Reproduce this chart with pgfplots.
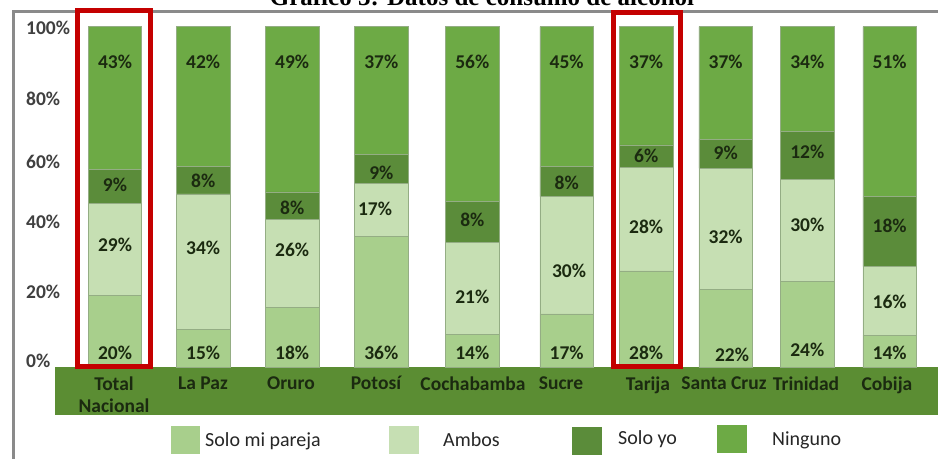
\documentclass[border=0pt]{standalone}
\usepackage{pgfplots}
\pgfplotsset{compat=1.18}
\usepackage{pgfplotstable}
\usepackage{fontspec}
\setmainfont{Carlito}
\newfontfamily\titlefont{Liberation Serif}
\definecolor{cPar}{HTML}{A8CF8C}
\definecolor{cAmb}{HTML}{C6DFB3}
\definecolor{cYo}{HTML}{5B8C3A}
\definecolor{cNin}{HTML}{6DAA45}
\definecolor{cBand}{HTML}{5B8D33}
\definecolor{cLab}{HTML}{1B2A10}
\definecolor{cEdge}{HTML}{94AD84}
\definecolor{cTick}{HTML}{404040}
\definecolor{cRed}{HTML}{C40000}
\definecolor{cFrame}{HTML}{8A8A8A}
\newcommand{\fLab}{\fontsize{19.5bp}{22bp}\selectfont\bfseries}
\newcommand{\fLeg}{\fontsize{20bp}{24bp}\selectfont}

% bar segments as they are drawn in the picture (percent of the bar)
\pgfplotstableread{
x     P    A    S    N
115.0 21.0 27.2 9.8  42.0
203.2 11.2 39.7 8.0  41.1
292.2 17.6 25.9 8.0  48.5
381.3 38.4 15.5 8.5  37.6
472.3 9.8  26.8 12.0 51.4
566.7 15.7 34.4 8.8  41.1
646.2 28.3 30.4 6.6  34.7
725.7 22.9 35.5 8.6  33.0
807.3 25.2 30.0 14.0 30.8
889.7 9.5  20.1 20.5 49.9
}\bars

% printed data labels and where they stand
\pgfplotstableread{
x     y    l
115.0 89.7 43
203.2 89.7 42
292.2 89.7 49
381.3 89.7 37
472.3 89.7 56
566.7 89.7 45
646.2 89.7 37
725.7 89.7 37
807.3 89.7 34
889.7 89.7 51
115.0 53.7 9
203.2 54.7 8
292.2 46.7 8
381.3 57.1 9
472.3 43.3 8
566.7 54.2 8
646.2 62.0 6
725.7 63.0 9
807.3 63.3 12
889.7 41.5 18
115.0 35.9 29
203.2 35.1 34
292.2 34.5 26
375.0 46.4 17
472.3 20.8 21
569.0 28.4 30
646.2 41.3 28
725.7 38.4 32
807.3 41.8 30
889.7 19.3 16
115.0 4.4 20
203.2 4.4 15
292.2 4.4 18
381.3 4.4 36
472.3 4.4 14
566.7 4.4 17
646.2 4.4 28
732.0 3.6 22
807.3 5.1 24
889.7 4.4 14
}\labs

\begin{document}
\begin{tikzpicture}
\useasboundingbox (0,0) rectangle (938bp,459bp);
\clip (0,0) rectangle (938bp,459bp);
\fill[white] (0,0) rectangle (938bp,459bp);
% category band
\fill[cBand] (55bp,43.5bp) rectangle (938bp,91.6bp);
% frame
\draw[cFrame, line width=2.5bp] (13.5bp,0) -- (13.5bp,447.5bp) -- (940bp,447.5bp);

\begin{axis}[
  at={(0bp,91.6bp)}, anchor=south west,
  scale only axis, width=938bp, height=340.7bp,
  xmin=0, xmax=938, ymin=0, ymax=100,
  ybar stacked, bar width=53.5,
  axis line style={draw=none}, major tick length=0pt,
  xtick={114,203,291,376,473,561,648,724,806,887},
  xticklabels={{Total\\Nacional},La Paz,Oruro,Potosí,Cochabamba,Sucre,Tarija,Santa Cruz,Trinidad,Cobija},
  xticklabel style={align=center, anchor=north, yshift=-5.5bp, font=\fLab, text=cLab},
  ytick={1.9,22.1,42.7,60.3,78.8,99.8},
  yticklabels={0\%,20\%,40\%,60\%,80\%,100\%},
  yticklabel style={anchor=west, inner sep=0pt, xshift=26bp, font=\fLab, text=cTick},
  clip=false,
]
\addplot[fill=cPar, draw=cEdge, line width=0.8bp] table[x=x,y=P]{\bars};
\addplot[fill=cAmb, draw=cEdge, line width=0.8bp] table[x=x,y=A]{\bars};
\addplot[fill=cYo,  draw=cEdge, line width=0.8bp] table[x=x,y=S]{\bars};
\addplot[fill=cNin, draw=cEdge, line width=0.8bp] table[x=x,y=N]{\bars};
\end{axis}

\begin{axis}[
  at={(0bp,91.6bp)}, anchor=south west,
  scale only axis, width=938bp, height=340.7bp,
  xmin=0, xmax=938, ymin=0, ymax=100,
  hide axis, clip=false,
]
\addplot[only marks, mark=none, point meta=explicit symbolic,
  nodes near coords={\pgfplotspointmeta\%},
  nodes near coords style={anchor=center, inner sep=0pt, font=\fLab, text=cLab}]
  table[x=x,y=y,meta=l]{\labs};
\end{axis}

% highlight boxes
\draw[cRed, line width=5bp] (77.5bp,92.5bp) rectangle (150.5bp,448.7bp);
\draw[cRed, line width=5bp] (613bp,92.5bp) rectangle (680bp,446bp);

% legend
\fill[cPar] (171bp,5bp) rectangle (200bp,33bp);
\node[anchor=base west, inner sep=0pt, font=\fLeg, text=black!85] at (205bp,12.5bp) {Solo mi pareja};
\fill[cAmb] (389bp,5bp) rectangle (419bp,33bp);
\node[anchor=base west, inner sep=0pt, font=\fLeg, text=black!85] at (443bp,12.5bp) {Ambos};
\fill[cYo] (572bp,4bp) rectangle (602bp,31.5bp);
\node[anchor=base west, inner sep=0pt, font=\fLeg, text=black!85] at (618bp,14.5bp) {Solo yo};
\fill[cNin] (717bp,6bp) rectangle (747bp,34bp);
\node[anchor=base west, inner sep=0pt, font=\fLeg, text=black!85] at (772bp,14bp) {Ninguno};

% title (cut by the top edge, as in the source)
\node[anchor=base, inner sep=0pt, font={\titlefont\bfseries\fontsize{25bp}{30bp}\selectfont}] at (482bp,453bp) {Gráfico 3: Datos de consumo de alcohol};
\end{tikzpicture}
\end{document}
